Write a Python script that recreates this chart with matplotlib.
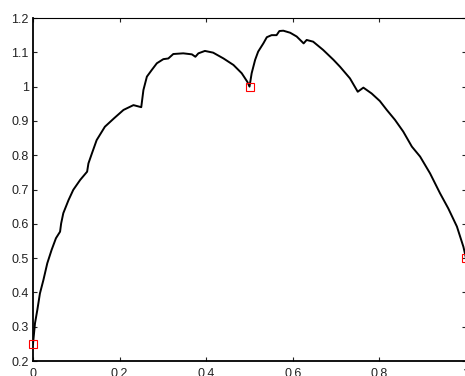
import matplotlib
matplotlib.use("Agg")
import matplotlib.pyplot as plt

# curve
x_vals = [0, 0.0046, 0.010, 0.016, 0.024, 0.033, 0.043, 0.053, 0.0625, 0.065,
          0.070, 0.082, 0.093, 0.109, 0.125, 0.128, 0.136, 0.147, 0.166, 0.1875,
          0.209, 0.232, 0.25, 0.255, 0.263, 0.274, 0.286, 0.301, 0.3125, 0.324,
          0.347, 0.367, 0.375, 0.382, 0.397, 0.416, 0.440, 0.463, 0.482, 0.495,
          0.5, 0.505, 0.513, 0.520, 0.532, 0.540, 0.551, 0.5625, 0.569, 0.578,
          0.594, 0.609, 0.625, 0.632, 0.647, 0.670, 0.694, 0.709, 0.732, 0.75,
          0.763, 0.782, 0.801, 0.817, 0.836, 0.855, 0.875, 0.894, 0.917, 0.940,
          0.959, 0.979, 0.994, 1.0]
y_vals = [0.25, 0.310, 0.349, 0.397, 0.436, 0.485, 0.524, 0.558, 0.577, 0.601,
          0.631, 0.669, 0.699, 0.728, 0.752, 0.776, 0.805, 0.844, 0.883, 0.908,
          0.932, 0.946, 0.94, 0.990, 1.029, 1.048, 1.068, 1.080, 1.082, 1.095,
          1.097, 1.094, 1.087, 1.097, 1.104, 1.099, 1.082, 1.063, 1.039, 1.014,
          1.0, 1.039, 1.078, 1.102, 1.126, 1.144, 1.150, 1.150, 1.162, 1.163,
          1.157, 1.146, 1.126, 1.136, 1.131, 1.107, 1.078, 1.058, 1.024, 0.985,
          0.997, 0.980, 0.958, 0.932, 0.903, 0.869, 0.825, 0.796, 0.747, 0.689,
          0.645, 0.592, 0.533, 0.50]

# red square markers
mark_x = [0, 0.5, 1]
mark_y = [0.25, 1.0, 0.5]

x_ticks = [0, 0.2, 0.4, 0.6, 0.8, 1]
x_labels = ["0", "0.2", "0.4", "0.6", "0.8", "1"]
y_ticks = [0.2, 0.3, 0.4, 0.5, 0.6, 0.7, 0.8, 0.9, 1.0, 1.1, 1.2]
y_labels = ["0.2", "0.3", "0.4", "0.5", "0.6", "0.7", "0.8", "0.9", "1", "1.1", "1.2"]

plt.rcParams["font.family"] = ["Liberation Sans", "DejaVu Sans"]

fig = plt.figure(figsize=(4.65, 3.76), dpi=100)
ax = fig.add_axes([33 / 465, 15 / 376, 433 / 465, 343 / 376])

ax.plot(x_vals, y_vals, color="black", linewidth=1.4)
ax.plot(mark_x, mark_y, linestyle="none", marker="s", markersize=5.5,
        markerfacecolor="none", markeredgecolor="red", markeredgewidth=0.8,
        clip_on=False, zorder=5)

ax.set_xlim(0, 1)
ax.set_ylim(0.2, 1.2)
ax.set_xticks(x_ticks)
ax.set_xticklabels(x_labels)
ax.set_yticks(y_ticks)
ax.set_yticklabels(y_labels)
ax.tick_params(direction="in", length=3, width=0.8, top=True, right=True,
               labelsize=9, colors="#222222")
ax.tick_params(axis="x", pad=5)
ax.tick_params(axis="y", pad=3)

for side in ["left", "bottom"]:
    ax.spines[side].set_linewidth(1.3)
for side in ["top", "right"]:
    ax.spines[side].set_linewidth(0.8)

fig.savefig("out.png", dpi=100)
